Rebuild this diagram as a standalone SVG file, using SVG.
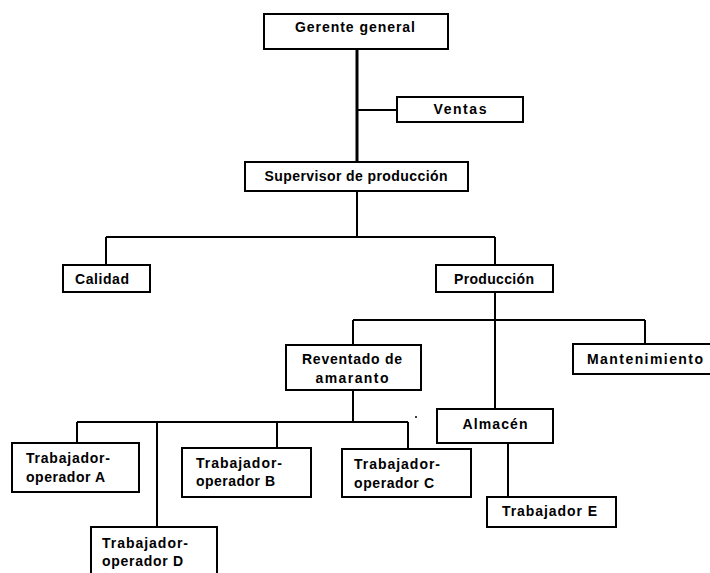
<svg xmlns="http://www.w3.org/2000/svg" width="710" height="573" viewBox="0 0 710 573">
<style>
.box{fill:#fff;stroke:#000;stroke-width:2}
.t{font-family:"Liberation Sans",Arial,sans-serif;font-size:14px;font-weight:bold;fill:#000}
.c{text-anchor:middle}
.ln{fill:none;stroke:#000;stroke-width:2}
.thick{fill:none;stroke:#000;stroke-width:3}
</style>
<rect width="710" height="573" fill="#fff"/>
<g id="connectors">
<path class="thick" d="M357 49V163"/>
<path class="ln" d="M357 110H397"/>
<path class="ln" d="M357 191V237M106 237H495M106 237V265M495 237V265"/>
<path class="ln" d="M495 292V410M353 320H645M353 320V345M645 320V345"/>
<path class="ln" d="M353 390V422M77 422H408M77 422V443M277 422V448M408 422V449"/>
<path class="ln" d="M157 422V527" stroke-width="2.5"/>
<path class="ln" d="M508 443V497"/>
</g>
<circle cx="416" cy="417" r="1" fill="#000"/>
<g id="gerente"><rect class="box" x="264" y="14" width="184" height="35"/><text class="t c" x="355" y="32" textLength="120">Gerente general</text></g>
<g id="ventas"><rect class="box" x="397" y="97" width="126" height="25"/><text class="t c" x="460" y="114" textLength="53">Ventas</text></g>
<g id="supervisor"><rect class="box" x="245" y="162" width="223" height="29"/><text class="t c" x="356" y="181" textLength="183">Supervisor de producción</text></g>
<g id="calidad"><rect class="box" x="63" y="265" width="87" height="27"/><text class="t" x="75" y="284" textLength="54">Calidad</text></g>
<g id="produccion"><rect class="box" x="436" y="265" width="117" height="27"/><text class="t c" x="494" y="284" textLength="80">Producción</text></g>
<g id="reventado"><rect class="box" x="286" y="345" width="135" height="45"/><text class="t c" x="352" y="364" textLength="100">Reventado de</text><text class="t c" x="352" y="383" textLength="73">amaranto</text></g>
<g id="mantenimiento"><rect class="box" x="573" y="344" width="145" height="30"/><text class="t" x="587" y="364" textLength="116">Mantenimiento</text></g>
<g id="almacen"><rect class="box" x="437" y="409" width="116" height="34"/><text class="t c" x="495" y="429" textLength="65">Almacén</text></g>
<g id="trabajadorE"><rect class="box" x="487" y="497" width="129" height="30"/><text class="t" x="502" y="516" textLength="95">Trabajador  E</text></g>
<g id="opA"><rect class="box" x="12" y="443" width="127" height="49"/><text class="t" x="26" y="463" textLength="84">Trabajador-</text><text class="t" x="26" y="482" textLength="79">operador A</text></g>
<g id="opB"><rect class="box" x="182" y="448" width="129" height="49"/><text class="t" x="196" y="468" textLength="86">Trabajador-</text><text class="t" x="196" y="486" textLength="79">operador B</text></g>
<g id="opC"><rect class="box" x="342" y="449" width="129" height="48"/><text class="t" x="354" y="469" textLength="86">Trabajador-</text><text class="t" x="354" y="488" textLength="80">operador C</text></g>
<g id="opD"><rect class="box" x="91" y="527" width="126" height="60"/><text class="t" x="102" y="548" textLength="86">Trabajador-</text><text class="t" x="102" y="566" textLength="81">operador D</text></g>
</svg>
